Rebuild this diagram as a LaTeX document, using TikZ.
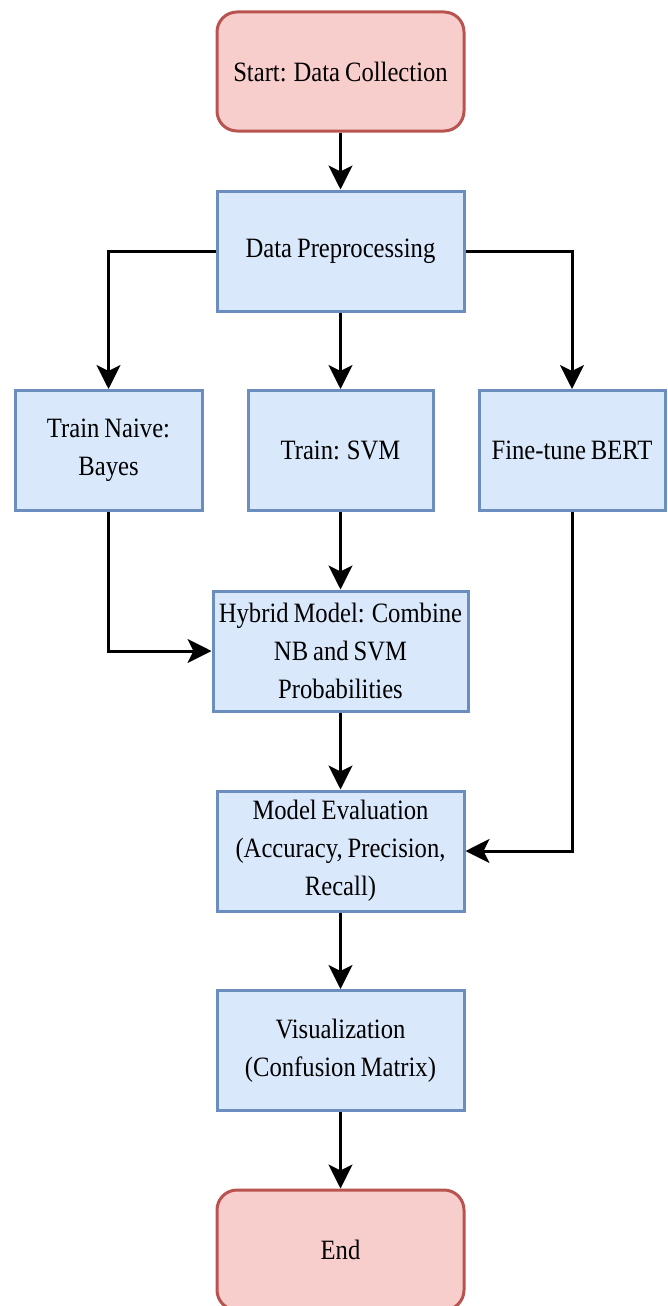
\documentclass[tikz,border=0pt]{standalone}
\usepackage{fontspec}
\setmainfont{Liberation Serif}[FakeStretch=0.88,WordSpace=0.8]
\usetikzlibrary{arrows.meta}
\definecolor{redfill}{HTML}{F8CECC}
\definecolor{redline}{HTML}{B85450}
\definecolor{bluefill}{HTML}{DAE8FC}
\definecolor{blueline}{HTML}{6C8EBF}
\begin{document}
\begin{tikzpicture}[x=1pt,y=-1pt,
  base/.style={draw, line width=3pt, align=center, inner sep=0pt,
    font=\fontsize{28}{38}\selectfont},
  term/.style={base, fill=redfill, draw=redline, rounded corners=20pt,
    minimum width=247pt, minimum height=119pt},
  proc/.style={base, fill=bluefill, draw=blueline, minimum height=120pt},
  conn/.style={line width=3pt, -{Stealth[length=24pt,width=24pt,inset=6pt]}}]
\useasboundingbox (0,0) rectangle (668,1306);
\begin{scope}
\clip (0,0) rectangle (668,1306);
\node[term] (start) at (340.5,71.5) {Start: Data Collection};
\node[proc, minimum width=247pt] (prep) at (340.5,251) {Data Preprocessing};
\node[proc, minimum width=187pt] (nb) at (108.5,450.5) {Train Naive:\\Bayes};
\node[proc, minimum width=185pt] (svm) at (340.5,450.5) {Train: SVM};
\node[proc, minimum width=186pt] (bert) at (572,450.5) {Fine-tune BERT};
\node[proc, minimum width=255pt] (hyb) at (340.5,651) {Hybrid Model: Combine\\NB and SVM\\Probabilities};
\node[proc, minimum width=247pt] (eval) at (340.5,851) {Model Evaluation\\(Accuracy, Precision,\\Recall)};
\node[proc, minimum width=247pt] (vis) at (340.5,1050.5) {Visualization\\(Confusion Matrix)};
\node[term, minimum height=120pt] (end) at (340.5,1250) {End};
\draw[conn] (start) -- (prep);
\draw[conn] (prep.west) -| (nb.north);
\draw[conn] (prep) -- (svm);
\draw[conn] (prep.east) -| (bert.north);
\draw[conn] (svm) -- (hyb);
\draw[conn] (nb.south) |- (hyb.west);
\draw[conn] (hyb) -- (eval);
\draw[conn] (bert.south) |- (eval.east);
\draw[conn] (eval) -- (vis);
\draw[conn] (vis) -- (end);
\end{scope}
\end{tikzpicture}
\end{document}
